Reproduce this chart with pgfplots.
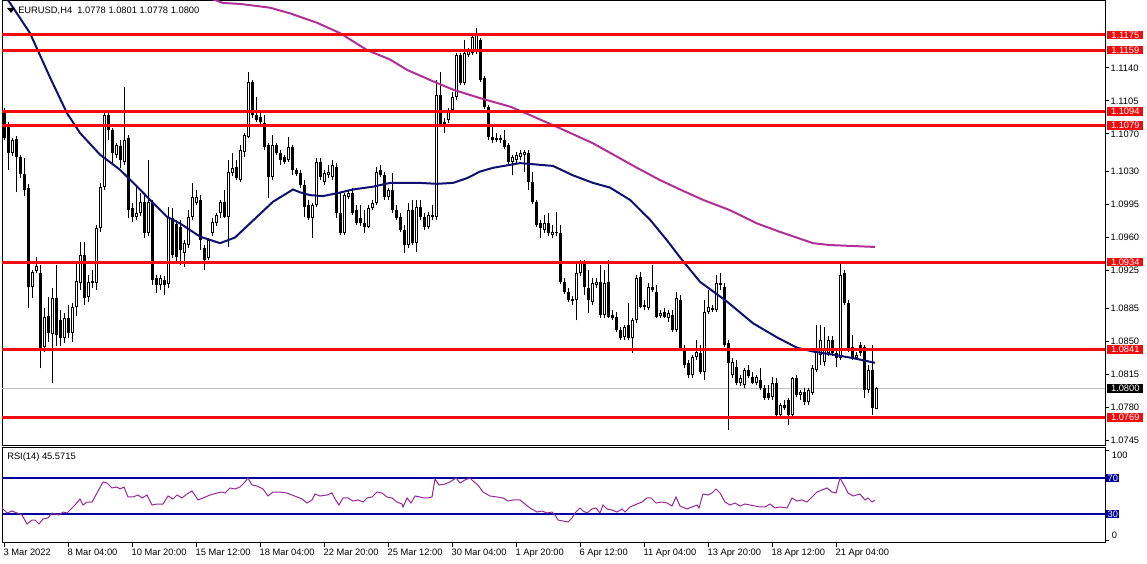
\documentclass[border=0pt]{standalone}
\usepackage{pgfplots}
\pgfplotsset{compat=1.18}
\usepackage{pgfplotstable}
\usepackage{fontspec}
\setmainfont{Liberation Sans}

\definecolor{lvred}{RGB}{240,12,12}
\definecolor{maNavy}{RGB}{16,16,110}
\definecolor{maPink}{RGB}{176,48,150}
\definecolor{rsiLine}{RGB}{150,40,150}
\definecolor{rsiLvl}{RGB}{0,0,160}
\newcommand{\tf}{\fontsize{7}{8}\selectfont}
\pgfplotsset{nomark/.style={only marks, mark=none, mark size=0pt, mark options={draw=none, fill=none}}}

% EURUSD H4 candles: bar index, open, high, low, close
\pgfplotstableread{
i o h l c
0 1.1093 1.1097 1.1064 1.1066
1 1.1077 1.1083 1.1032 1.1050
2 1.1050 1.1066 1.1047 1.1064
3 1.1065 1.1068 1.1008 1.1045
4 1.1045 1.1048 1.1023 1.1027
5 1.1027 1.1044 1.1004 1.1010
6 1.1013 1.1017 1.0885 1.0907
7 1.0907 1.0926 1.0896 1.0923
8 1.0924 1.0939 1.0922 1.0930
9 1.0922 1.0931 1.0821 1.0843
10 1.0844 1.0885 1.0838 1.0876
11 1.0877 1.0897 1.0849 1.0859
12 1.0858 1.0906 1.0806 1.0896
13 1.0896 1.0931 1.0845 1.0856
14 1.0872 1.0883 1.0845 1.0853
15 1.0853 1.0880 1.0848 1.0875
16 1.0875 1.0888 1.0853 1.0859
17 1.0859 1.0890 1.0849 1.0886
18 1.0886 1.0933 1.0877 1.0914
19 1.0912 1.0955 1.0904 1.0941
20 1.0941 1.0955 1.0888 1.0896
21 1.0897 1.0920 1.0892 1.0913
22 1.0914 1.0926 1.0906 1.0912
23 1.0912 1.0973 1.0904 1.0970
24 1.0970 1.1018 1.0966 1.1014
25 1.1014 1.1095 1.1010 1.1090
26 1.1090 1.1095 1.1064 1.1074
27 1.1074 1.1076 1.1037 1.1050
28 1.1048 1.1060 1.1044 1.1058
29 1.1057 1.1064 1.1034 1.1042
30 1.1040 1.1120 1.1037 1.1064
31 1.1066 1.1069 1.0981 1.0989
32 1.0991 1.0997 1.0976 1.0982
33 1.0982 1.1016 1.0979 1.0986
34 1.0986 1.1007 1.0983 1.0998
35 1.0998 1.1005 1.0959 1.0965
36 1.0965 1.1042 1.0962 1.0998
37 1.0998 1.1000 1.0910 1.0915
38 1.0917 1.0920 1.0901 1.0910
39 1.0910 1.0920 1.0904 1.0917
40 1.0915 1.0919 1.0899 1.0910
41 1.0911 1.0992 1.0906 1.0982
42 1.0981 1.0991 1.0938 1.0941
43 1.0974 1.0979 1.0934 1.0939
44 1.0971 1.0979 1.0931 1.0947
45 1.0944 1.0957 1.0929 1.0954
46 1.0952 1.0989 1.0949 1.0982
47 1.0982 1.1018 1.0979 1.1003
48 1.0997 1.1010 1.0995 1.1003
49 1.1000 1.1005 1.0947 1.0957
50 1.0949 1.0952 1.0926 1.0936
51 1.0938 1.0959 1.0936 1.0957
52 1.0965 1.0981 1.0962 1.0976
53 1.0975 1.0986 1.0972 1.0984
54 1.0986 1.1000 1.0981 1.0998
55 1.0998 1.1010 1.0981 1.0982
56 1.0982 1.1042 1.0950 1.1030
57 1.1028 1.1050 1.1025 1.1034
58 1.1035 1.1042 1.1021 1.1023
59 1.1021 1.1058 1.1019 1.1053
60 1.1051 1.1071 1.1045 1.1069
61 1.1067 1.1136 1.1066 1.1125
62 1.1125 1.1127 1.1087 1.1090
63 1.1090 1.1109 1.1083 1.1085
64 1.1088 1.1092 1.1081 1.1083
65 1.1082 1.1090 1.1053 1.1056
66 1.1058 1.1060 1.1002 1.1024
67 1.1024 1.1069 1.1021 1.1058
68 1.1058 1.1060 1.1048 1.1050
69 1.1050 1.1053 1.1037 1.1042
70 1.1045 1.1048 1.1038 1.1040
71 1.1042 1.1067 1.1040 1.1056
72 1.1056 1.1058 1.1026 1.1032
73 1.1032 1.1034 1.1025 1.1027
74 1.1028 1.1032 1.1013 1.1016
75 1.1016 1.1021 1.0982 1.0992
76 1.0995 1.1000 1.0979 1.0981
77 1.0981 1.0997 1.0959 1.0995
78 1.0995 1.1044 1.0992 1.1040
79 1.1040 1.1044 1.1021 1.1024
80 1.1019 1.1032 1.1016 1.1028
81 1.1026 1.1037 1.1023 1.1030
82 1.1024 1.1042 1.1021 1.1037
83 1.1035 1.1039 1.0981 1.0986
84 1.0986 1.1007 1.0963 1.0965
85 1.0965 1.1007 1.0963 1.1005
86 1.1003 1.1010 1.1001 1.1007
87 1.1007 1.1013 1.0984 1.0986
88 1.0989 1.0995 1.0973 1.0975
89 1.0981 1.0995 1.0972 1.0975
90 1.0975 1.0989 1.0965 1.0971
91 1.0971 1.0995 1.0970 1.0991
92 1.0991 1.1000 1.0989 1.0997
93 1.0997 1.1035 1.0995 1.1030
94 1.1032 1.1037 1.1024 1.1026
95 1.1026 1.1030 1.1000 1.1003
96 1.1003 1.1013 1.1000 1.1010
97 1.1010 1.1028 1.0986 1.0989
98 1.0989 1.0995 1.0979 1.0981
99 1.0982 1.0986 1.0966 1.0968
100 1.0968 1.0973 1.0944 1.0952
101 1.0952 1.0997 1.0949 1.0989
102 1.0989 1.1000 1.0952 1.0954
103 1.0954 1.1000 1.0945 1.0992
104 1.0992 1.1000 1.0979 1.0982
105 1.0982 1.0986 1.0968 1.0971
106 1.0971 1.0987 1.0969 1.0984
107 1.0982 1.0995 1.0979 1.0984
108 1.0982 1.1127 1.0979 1.1111
109 1.1111 1.1136 1.1077 1.1079
110 1.1081 1.1087 1.1071 1.1083
111 1.1085 1.1097 1.1082 1.1095
112 1.1095 1.1114 1.1093 1.1109
113 1.1109 1.1156 1.1106 1.1154
114 1.1154 1.1156 1.1122 1.1124
115 1.1124 1.1170 1.1122 1.1156
116 1.1154 1.1161 1.1152 1.1159
117 1.1156 1.1175 1.1154 1.1173
118 1.1157 1.1182 1.1155 1.1175
119 1.1170 1.1172 1.1125 1.1127
120 1.1129 1.1131 1.1096 1.1099
121 1.1099 1.1101 1.1064 1.1067
122 1.1067 1.1079 1.1060 1.1064
123 1.1064 1.1071 1.1061 1.1066
124 1.1066 1.1069 1.1060 1.1064
125 1.1064 1.1074 1.1054 1.1056
126 1.1058 1.1060 1.1037 1.1040
127 1.1040 1.1048 1.1026 1.1045
128 1.1042 1.1051 1.1038 1.1048
129 1.1045 1.1053 1.1042 1.1050
130 1.1048 1.1053 1.1030 1.1051
131 1.1050 1.1053 1.1010 1.1019
132 1.1019 1.1030 1.0996 1.0998
133 1.0998 1.1000 1.0971 1.0973
134 1.0975 1.0979 1.0959 1.0970
135 1.0968 1.0984 1.0965 1.0975
136 1.0975 1.0986 1.0962 1.0965
137 1.0963 1.0973 1.0959 1.0966
138 1.0966 1.0987 1.0962 1.0965
139 1.0965 1.0973 1.0911 1.0913
140 1.0913 1.0917 1.0900 1.0902
141 1.0902 1.0906 1.0892 1.0894
142 1.0895 1.0898 1.0888 1.0893
143 1.0894 1.0934 1.0872 1.0922
144 1.0922 1.0936 1.0919 1.0933
145 1.0933 1.0936 1.0899 1.0907
146 1.0906 1.0926 1.0880 1.0894
147 1.0892 1.0917 1.0888 1.0912
148 1.0910 1.0917 1.0906 1.0913
149 1.0913 1.0931 1.0875 1.0878
150 1.0878 1.0926 1.0875 1.0912
151 1.0913 1.0936 1.0875 1.0876
152 1.0878 1.0883 1.0872 1.0875
153 1.0876 1.0881 1.0860 1.0862
154 1.0862 1.0865 1.0851 1.0853
155 1.0854 1.0867 1.0851 1.0865
156 1.0867 1.0890 1.0851 1.0853
157 1.0853 1.0875 1.0837 1.0872
158 1.0872 1.0920 1.0869 1.0917
159 1.0918 1.0923 1.0885 1.0886
160 1.0886 1.0894 1.0883 1.0888
161 1.0885 1.0912 1.0883 1.0907
162 1.0907 1.0931 1.0902 1.0904
163 1.0902 1.0910 1.0875 1.0876
164 1.0877 1.0883 1.0875 1.0880
165 1.0881 1.0885 1.0875 1.0876
166 1.0875 1.0883 1.0870 1.0880
167 1.0878 1.0883 1.0860 1.0862
168 1.0862 1.0902 1.0860 1.0896
169 1.0894 1.0899 1.0841 1.0843
170 1.0843 1.0846 1.0821 1.0825
171 1.0827 1.0830 1.0811 1.0814
172 1.0814 1.0835 1.0811 1.0833
173 1.0833 1.0851 1.0830 1.0838
174 1.0837 1.0846 1.0815 1.0817
175 1.0817 1.0894 1.0809 1.0881
176 1.0881 1.0904 1.0879 1.0886
177 1.0883 1.0888 1.0881 1.0885
178 1.0883 1.0920 1.0881 1.0912
179 1.0910 1.0922 1.0904 1.0912
180 1.0907 1.0912 1.0844 1.0846
181 1.0848 1.0851 1.0756 1.0827
182 1.0814 1.0832 1.0811 1.0828
183 1.0823 1.0830 1.0803 1.0806
184 1.0806 1.0814 1.0802 1.0811
185 1.0803 1.0821 1.0800 1.0819
186 1.0819 1.0825 1.0811 1.0813
187 1.0812 1.0817 1.0804 1.0806
188 1.0806 1.0814 1.0803 1.0812
189 1.0809 1.0821 1.0798 1.0800
190 1.0800 1.0803 1.0788 1.0790
191 1.0795 1.0803 1.0788 1.0790
192 1.0791 1.0812 1.0788 1.0806
193 1.0806 1.0811 1.0769 1.0772
194 1.0772 1.0784 1.0768 1.0782
195 1.0782 1.0788 1.0777 1.0779
196 1.0788 1.0790 1.0761 1.0772
197 1.0772 1.0812 1.0768 1.0811
198 1.0811 1.0814 1.0791 1.0793
199 1.0793 1.0798 1.0788 1.0796
200 1.0796 1.0800 1.0782 1.0785
201 1.0785 1.0800 1.0782 1.0798
202 1.0795 1.0825 1.0793 1.0821
203 1.0819 1.0867 1.0817 1.0841
204 1.0835 1.0867 1.0825 1.0851
205 1.0828 1.0865 1.0824 1.0841
206 1.0837 1.0856 1.0834 1.0851
207 1.0851 1.0856 1.0834 1.0837
208 1.0837 1.0841 1.0823 1.0832
209 1.0832 1.0934 1.0830 1.0920
210 1.0922 1.0926 1.0888 1.0890
211 1.0890 1.0894 1.0838 1.0841
212 1.0844 1.0856 1.0830 1.0832
213 1.0832 1.0838 1.0830 1.0835
214 1.0846 1.0849 1.0834 1.0837
215 1.0844 1.0846 1.0790 1.0798
216 1.0798 1.0825 1.0795 1.0819
217 1.0819 1.0846 1.0772 1.0779
218 1.0778 1.0801 1.0778 1.0800
}\candles

% RSI(14)
\pgfplotstableread{
i r
-0.5 36.7
0.75 31.1
2 33.3
3.25 31.1
4.5 28.9
5.75 18.9
7 23.3
7.75 23.3
8.75 18.9
9.75 24.4
11 25.6
12 31.1
12.75 30.0
13.75 28.9
14.75 32.2
15.75 31.1
16.5 34.4
17.75 40.0
19 46.7
19.75 40.0
20.75 43.3
22 43.3
23.25 53.3
24.75 65.6
25.75 64.4
27 58.9
28.25 60.0
29 57.8
30 60.0
31 48.9
32.25 48.9
33.5 51.1
34.5 47.8
35.75 51.1
37 40.0
38.25 41.1
39.75 41.1
41 50.0
42.25 46.7
43.25 51.1
44.5 47.8
45.75 52.2
47 55.6
48.5 45.6
49.75 47.8
51.5 51.1
53.25 53.3
54.5 54.4
55.25 53.3
56.5 58.9
57.75 57.8
59 60.0
60.25 65.6
61 70.0
62 62.2
63.25 61.1
64.75 57.8
66 50.0
67.25 54.4
69 54.4
70.75 53.3
72 51.1
73.25 48.9
74.5 46.7
75.75 42.2
77 45.6
77.75 52.2
79 50.0
80.75 51.1
82 53.3
82.75 46.7
83.75 40.0
84.75 47.8
86 47.8
87.25 44.4
88.5 45.6
89.75 43.3
90.75 47.8
92 48.9
93.25 54.4
94.5 53.3
95.75 48.9
97 47.8
98.25 43.3
99.5 41.1
99.75 37.8
100.75 47.8
101.75 42.2
102.75 50.0
104 48.9
105 47.8
106 47.8
107 48.9
107.75 68.9
108.75 62.2
110.25 63.3
111.5 65.6
113 70.0
114 64.4
115.25 67.8
116.5 70.0
117.25 66.7
118.5 62.2
119.75 54.4
121.5 50.0
123.25 48.9
124.75 47.8
126 44.4
127.25 45.6
129 45.6
130.25 41.1
131.5 36.7
133.25 32.2
134.5 33.3
135.75 31.1
137 32.2
137.75 28.9
138.5 23.3
139.75 22.2
141 21.1
142 25.6
142.75 31.1
144 36.7
144.75 33.3
145.75 31.1
147 35.6
148 36.7
149 31.1
149.75 40.0
150.75 35.6
152 34.4
153.25 32.2
154.5 35.6
155.25 32.2
156.5 37.8
158.25 41.1
159.5 43.3
160.75 47.8
161.75 47.8
163 42.2
164.5 43.3
165.75 42.2
167 38.9
168 48.9
169 38.9
170.75 35.6
172 37.8
173.25 40.0
173.75 36.7
174.75 52.2
176 51.1
177 53.3
178 57.8
179 53.3
180.25 43.3
181.5 40.0
182.75 42.2
184 38.9
185.25 41.1
186.5 40.0
187.75 38.9
189 37.8
190.25 37.8
191.5 41.1
192.75 36.7
194 37.8
195.75 36.7
197 47.8
198.25 44.4
199.5 45.6
200.75 43.3
202 48.9
203.25 54.4
204.5 56.7
205.75 58.9
207 54.4
208 53.3
209 70.0
210.25 60.0
211 53.3
212.25 50.0
214 52.2
215.25 45.6
216 47.8
217 43.3
217.75 45.6
}\rsi

\begin{document}
\begin{tikzpicture}[x=0.75pt,y=0.75pt]
\useasboundingbox (0,0) rectangle (1147,564);

% ---------- price panel ----------
\begin{axis}[
    at={(1.5pt,88.5pt)}, anchor=south west,
    scale only axis, width=827.25pt, height=333.75pt,
    xmin=-0.5, xmax=275.25, ymin=1.07387, ymax=1.12111,
    xtick=\empty,
    ytick={1.1140,1.1105,1.1070,1.1030,1.0995,1.0960,1.0925,1.0885,1.0850,1.0815,1.0780,1.0745},
    yticklabels={1.1140,1.1105,1.1070,1.1030,1.0995,1.0960,1.0925,1.0885,1.0850,1.0815,1.0780,1.0745},
    ytick pos=right, yticklabel pos=right,
    tick align=outside, major tick length=3pt,
    tick style={black, line width=0.75pt},
    axis line style={black, line width=0.75pt},
    tick label style={font=\tf, inner sep=1pt},
]
% current price line
\addplot[black!25, line width=0.75pt] coordinates {(-1,1.0800) (280,1.0800)};
% wicks
\addplot[black, nomark,
    error bars/.cd, y dir=plus, y explicit, error mark=none,
    error bar style={line width=0.75pt}]
    table[x=i, y=l, y error plus expr=\thisrow{h}-\thisrow{l}] {\candles};
% bearish bodies
\addplot[black, nomark,
    restrict expr to domain={\thisrow{o}-\thisrow{c}}{0.00001:1},
    error bars/.cd, y dir=plus, y explicit, error mark=none,
    error bar style={line width=2.25pt}]
    table[x=i, y=c, y error plus expr=\thisrow{o}-\thisrow{c}] {\candles};
% bullish bodies: outline then hollow inside
\addplot[black, nomark,
    restrict expr to domain={\thisrow{c}-\thisrow{o}}{0:1},
    error bars/.cd, y dir=plus, y explicit, error mark=none,
    error bar style={line width=2.25pt}]
    table[x=i, y=o, y error plus expr=\thisrow{c}-\thisrow{o}] {\candles};
\addplot[white, nomark,
    restrict expr to domain={\thisrow{c}-\thisrow{o}}{0.00025:1},
    error bars/.cd, y dir=plus, y explicit, error mark=none,
    error bar style={line width=0.75pt}]
    table[x=i, y expr=\thisrow{o}+0.000106, y error plus expr=\thisrow{c}-\thisrow{o}-0.000212] {\candles};

% moving averages
\addplot[maNavy, line width=1.5pt] coordinates {
(-1,1.1223) (1.5,1.1209) (6.5,1.1177) (11.5,1.1130) (15.75,1.1092) (19,1.1071)
(24,1.1048) (29,1.1032) (34,1.1011) (36.5,1.1000) (40.75,1.0982) (44,1.0975)
(49,1.0961) (54,1.0954) (57.75,1.0960) (63.25,1.0982) (67.25,1.0998) (72.25,1.1011)
(74,1.1008) (76.5,1.1005) (79.75,1.1004) (83.25,1.1007) (87.25,1.1011) (92.25,1.1014)
(96.5,1.1018) (104,1.1018) (108.25,1.1017) (112.25,1.1018) (115.75,1.1023) (119,1.1030)
(122.25,1.1034) (129,1.1039) (137.25,1.1036) (142.25,1.1026) (147.25,1.1018) (151.5,1.1013)
(156.5,1.1000) (161.5,1.0979) (165.75,1.0957) (169,1.0939) (171.5,1.0926) (174,1.0913)
(180.75,1.0892) (187.25,1.0869) (193.25,1.0854) (198.25,1.0843) (202.25,1.0839)
(208.25,1.0835) (212.25,1.0832) (217.75,1.0827)};
\addplot[maPink, line width=1.5pt] coordinates {
(49,1.1218) (54.75,1.1209) (59,1.1208) (66.5,1.1204) (71.5,1.1198) (78.25,1.1188)
(84,1.1177) (90.75,1.1159) (96.5,1.1149) (100.75,1.1138) (108.25,1.1124) (112.25,1.1117)
(119,1.1108) (126.5,1.1099) (131.5,1.1090) (139,1.1076) (147.25,1.1060) (151.5,1.1050)
(158.25,1.1034) (164,1.1021) (169,1.1011) (174.75,1.1000) (181.5,1.0989) (188.25,1.0975)
(194,1.0966) (202.25,1.0954) (206.5,1.0952) (212.25,1.0951) (217.75,1.0950)};

% horizontal levels
\foreach \lv in {1.1175,1.1159,1.1094,1.1079,1.0934,1.0841,1.0769}{
  \edef\temp{\noexpand\addplot[lvred, line width=2.25pt] coordinates {(-1,\lv) (280,\lv)};}
  \temp
}
\coordinate (p1175) at (axis cs:275.25,1.1175);
\coordinate (p1159) at (axis cs:275.25,1.1159);
\coordinate (p1094) at (axis cs:275.25,1.1094);
\coordinate (p1079) at (axis cs:275.25,1.1079);
\coordinate (p0934) at (axis cs:275.25,1.0934);
\coordinate (p0841) at (axis cs:275.25,1.0841);
\coordinate (p0769) at (axis cs:275.25,1.0769);
\coordinate (p0800) at (axis cs:275.25,1.0800);
\end{axis}

% ---------- RSI panel ----------
\begin{axis}[
    at={(1.5pt,15.75pt)}, anchor=south west,
    scale only axis, width=827.25pt, height=71.25pt,
    xmin=-0.5, xmax=275.25, ymin=-2.22, ymax=103.33,
    xtick={0,16,...,208},
    xticklabels={3 Mar 2022,8 Mar 04:00,10 Mar 20:00,15 Mar 12:00,18 Mar 04:00,22 Mar 20:00,25 Mar 12:00,30 Mar 04:00,1 Apr 20:00,6 Apr 12:00,11 Apr 04:00,13 Apr 20:00,18 Apr 12:00,21 Apr 04:00},
    xtick pos=bottom,
    xticklabel style={anchor=north west, xshift=-1.5pt},
    ytick={0,100}, yticklabels={}, ytick pos=right,
    tick align=outside, major tick length=3pt,
    tick style={black, line width=0.75pt},
    axis line style={black, line width=0.75pt},
    tick label style={font=\tf, inner sep=1pt},
]
\addplot[rsiLvl, line width=1.5pt] coordinates {(-1,70) (280,70)};
\addplot[rsiLvl, line width=1.5pt] coordinates {(-1,30) (280,30)};
\addplot[rsiLine, line width=0.75pt] table[x=i, y=r] {\rsi};
\coordinate (r70) at (axis cs:275.25,70);
\coordinate (r30) at (axis cs:275.25,30);
\coordinate (r100) at (axis cs:275.25,100);
\coordinate (r0) at (axis cs:275.25,0);
\end{axis}

% ---------- right-hand labels ----------
\tikzset{lvlab/.style={anchor=west, fill=lvred, text=white, font=\tf, inner xsep=1.5pt, inner ysep=0.8pt, minimum width=27pt, align=left}}
\foreach \c/\t in {p1175/1.1175,p1159/1.1159,p1094/1.1094,p1079/1.1079,p0934/1.0934,p0841/1.0841,p0769/1.0769}{
  \node[lvlab] at ([xshift=1.5pt]\c) {\t};
}
\node[lvlab, fill=black] at ([xshift=1.5pt]p0800) {1.0800};
\node[anchor=west, fill=rsiLvl, text=white, font=\tf, inner xsep=1pt, inner ysep=0.8pt] at ([xshift=0.75pt]r70) {70};
\node[anchor=west, fill=rsiLvl, text=white, font=\tf, inner xsep=1pt, inner ysep=0.8pt] at ([xshift=0.75pt]r30) {30};
\node[anchor=west, font=\tf, inner sep=0pt] at ([xshift=5pt, yshift=-3pt]r100) {100};
\node[anchor=west, font=\tf, inner sep=0pt] at ([xshift=5pt, yshift=4pt]r0) {0};

% ---------- captions ----------
\fill[black] (7,556) -- (15,556) -- (11,551) -- cycle;
\node[anchor=west, font=\tf, inner sep=0pt] at (18,553.5) {EURUSD,H4\ \ 1.0778 1.0801 1.0778 1.0800};
\node[anchor=west, font=\tf, inner sep=0pt] at (7,107) {RSI(14) 45.5715};
\end{tikzpicture}
\end{document}
